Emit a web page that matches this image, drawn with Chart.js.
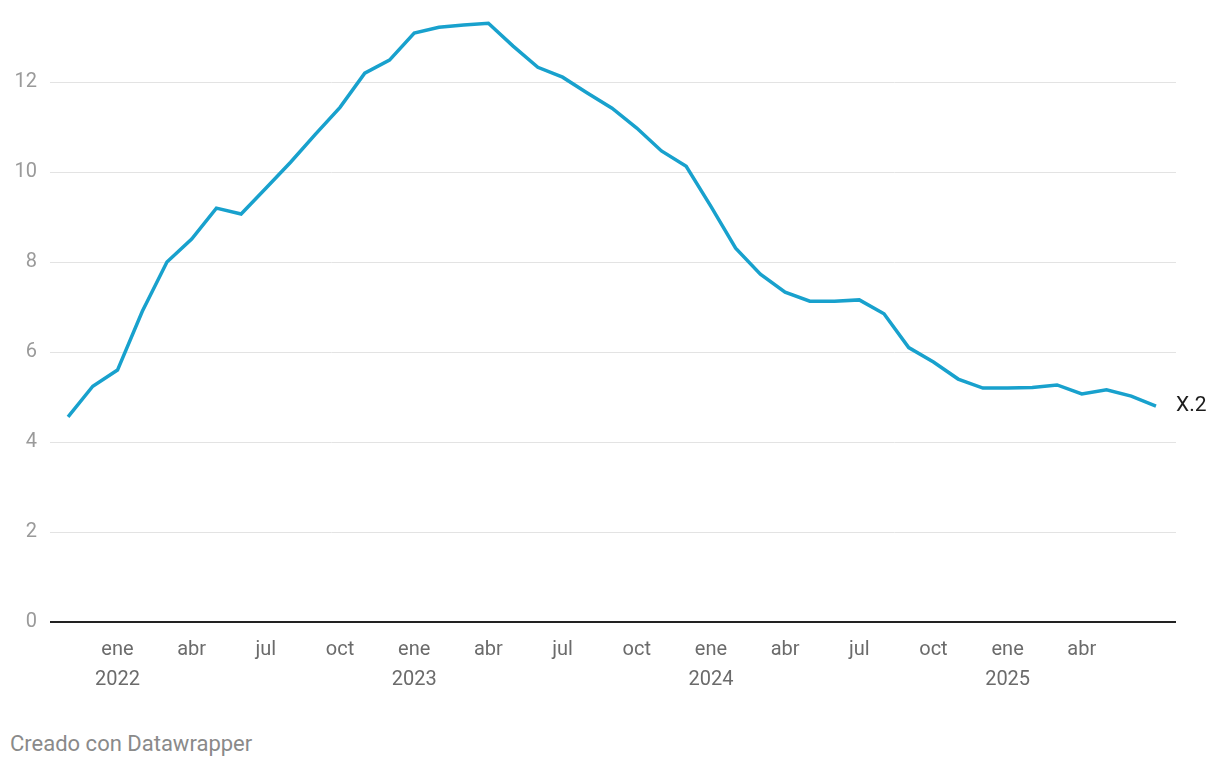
<!DOCTYPE html>
<html lang="es">
<head>
<meta charset="utf-8">
<title>Gráfico</title>
<script src="https://cdn.jsdelivr.net/npm/chart.js@4"></script>
<style>
  html, body { margin: 0; padding: 0; background: #fff; }
  body { width: 1220px; height: 768px; position: relative; font-family: Roboto, "Noto Sans", sans-serif; }
  #wrap { position: absolute; left: 0; top: 0; width: 1220px; height: 710px; }
  #footer { position: absolute; left: 10px; top: 730px; font-size: 22px; line-height: 28px; color: #8a8a8a; }
</style>
</head>
<body>
<div id="wrap"><canvas id="chart"></canvas></div>
<div id="footer">Creado con Datawrapper</div>
<script>
// Meses: nov 2021 – jul 2025
const anioInicio = 2021;
const mesInicio = 10; // noviembre (0 = enero)
const nombresMes = ['ene', 'feb', 'mar', 'abr', 'may', 'jun', 'jul', 'ago', 'sep', 'oct', 'nov', 'dic'];

// Valores de la serie X.2
const valores = [
  4.56, 5.24, 5.60, 6.90, 8.00, 8.51, 9.20, 9.07, 9.64, 10.22,
  10.84, 11.44, 12.20, 12.49, 13.09, 13.22, 13.27, 13.31, 12.80, 12.33,
  12.11, 11.76, 11.42, 10.98, 10.47, 10.13, 9.24, 8.31, 7.73, 7.33,
  7.13, 7.13, 7.16, 6.85, 6.10, 5.78, 5.40, 5.20, 5.20, 5.21,
  5.27, 5.07, 5.16, 5.02, 4.80
];

const nombreSerie = 'X.2';
const ticksY = [0, 2, 4, 6, 8, 10, 12];
const ultimoTickX = 41; // abr 2025

// Construir puntos (índice de mes -> valor)
const puntos = valores.map((v, i) => ({ x: i, y: v }));

function etiquetaMes(i) {
  const total = mesInicio + i;
  const mes = total % 12;
  const anio = anioInicio + Math.floor(total / 12);
  if (mes === 0) return [nombresMes[mes], String(anio)];
  return nombresMes[mes];
}

// Etiqueta de la serie al final de la línea
const etiquetaFinal = {
  id: 'etiquetaFinal',
  afterDatasetsDraw(chart) {
    const meta = chart.getDatasetMeta(0);
    const last = meta.data[meta.data.length - 1];
    const ctx = chart.ctx;
    ctx.save();
    ctx.font = '21px Roboto';
    ctx.fillStyle = '#1d1d1d';
    ctx.textBaseline = 'middle';
    ctx.textAlign = 'left';
    ctx.fillText(nombreSerie, last.x + 20, last.y);
    ctx.restore();
  }
};

new Chart(document.getElementById('chart'), {
  type: 'line',
  data: {
    datasets: [{
      label: nombreSerie,
      data: puntos,
      borderColor: '#18a1cd',
      borderWidth: 3.5,
      pointRadius: 0,
      tension: 0,
      fill: false,
      clip: false
    }]
  },
  options: {
    responsive: true,
    maintainAspectRatio: false,
    animation: false,
    layout: { padding: { left: 0, right: 44, top: 0, bottom: 0 } },
    plugins: {
      legend: { display: false },
      tooltip: { enabled: false }
    },
    scales: {
      x: {
        type: 'linear',
        min: -0.73,
        max: 44.81,
        border: { display: false },
        grid: { display: false, drawTicks: false },
        afterBuildTicks(scale) {
          const t = [];
          for (let i = 0; i <= ultimoTickX; i++) {
            if ((mesInicio + i) % 3 === 0) t.push({ value: i });
          }
          scale.ticks = t;
        },
        afterFit(scale) { scale.height = 88; },
        ticks: {
          autoSkip: false,
          maxRotation: 0,
          padding: 13,
          color: '#6b6b6b',
          font: { family: 'Roboto', size: 20, lineHeight: 1.5 },
          callback: (v) => etiquetaMes(v)
        }
      },
      y: {
        min: 0,
        max: 13.27,
        border: { display: false },
        afterBuildTicks(scale) {
          scale.ticks = ticksY.map(v => ({ value: v }));
        },
        afterFit(scale) { scale.width = 50; },
        grid: {
          drawTicks: false,
          color: (c) => c.tick && c.tick.value === 0 ? '#222' : '#e3e3e3',
          lineWidth: (c) => c.tick && c.tick.value === 0 ? 2 : 1
        },
        ticks: {
          padding: 13,
          color: '#9a9a9a',
          font: { family: 'Roboto', size: 20 }
        }
      }
    }
  },
  plugins: [etiquetaFinal]
});
</script>
</body>
</html>
